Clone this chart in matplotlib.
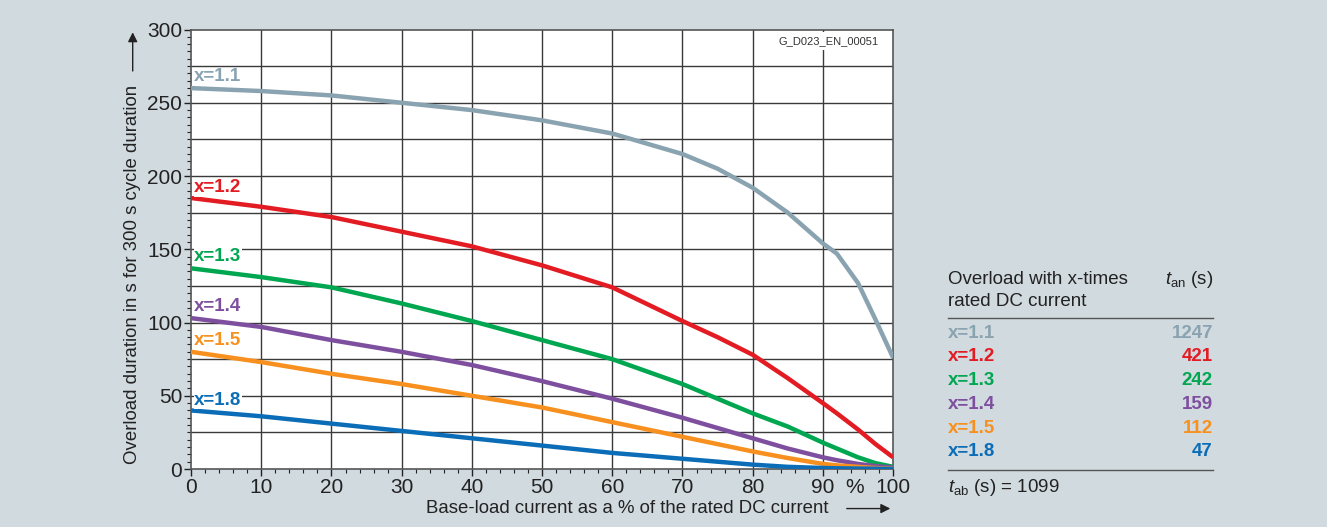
import numpy as np
import matplotlib.pyplot as plt

plt.rcParams['font.family'] = ['Liberation Sans', 'DejaVu Sans']
plt.rcParams['mathtext.fontset'] = 'custom'
plt.rcParams['mathtext.rm'] = 'Liberation Sans'
plt.rcParams['mathtext.it'] = 'Liberation Sans:italic'

# base-load current (% of rated DC current)
base = [0, 10, 20, 30, 40, 50, 60, 70, 75, 80, 85, 90, 92, 95, 97.5, 100]

# overload duration (s) for each overload factor
t_11 = [260, 258, 255, 250, 245, 238, 229, 215, 205, 192, 175, 154, 147, 127, 102, 76]
t_12 = [185, 179, 172, 162, 152, 139, 124, 101, 90, 78, 62, 45, 38, 27, 17, 8]
t_13 = [137, 131, 124, 113, 101, 88, 75, 58, 48, 38, 29, 18, 14, 8, 4, 1.5]
t_14 = [103, 97, 88, 80, 71, 60, 48, 35, 28, 21, 14, 8, 6, 3.5, 2, 1]
t_15 = [80, 73, 65, 58, 50, 42, 32, 22, 17, 12, 7.5, 3.5, 2.5, 1.5, 0.7, 0.3]
t_18 = [40, 36, 31, 26, 21, 16, 11, 7, 5, 3, 1.5, 0.7, 0.5, 0.3, 0.2, 0.1]

labels = ['x=1.1', 'x=1.2', 'x=1.3', 'x=1.4', 'x=1.5', 'x=1.8']
t_an = ['1247', '421', '242', '159', '112', '47']
colors = ['#8aa3b1', '#e31b23', '#00a650', '#7e4f9e', '#f7901e', '#0b6db7']
series = [t_11, t_12, t_13, t_14, t_15, t_18]
label_y = [268, 192, 145, 111, 88, 47]

bg = '#d1dadf'
fig = plt.figure(figsize=(13.27, 5.27), dpi=100, facecolor=bg)
ax = fig.add_axes([0.144, 0.110, 0.529, 0.834])
ax.set_facecolor('white')

for v in range(10, 100, 10):
    ax.axvline(v, color='#3a3a3a', lw=1.0, zorder=1)
for h in range(25, 300, 25):
    ax.axhline(h, color='#3a3a3a', lw=1.0, zorder=1)

for y, c in zip(series, colors):
    ax.plot(base, y, color=c, lw=3.2, zorder=3, solid_capstyle='butt')

for lab, c, ly in zip(labels, colors, label_y):
    ax.text(0.4, ly, lab, color=c, fontsize=13.5, fontweight='bold', va='center', ha='left', zorder=4,
            bbox=dict(facecolor='white', edgecolor='none', pad=0.3))

ax.text(98, 292, 'G_D023_EN_00051', fontsize=8, color='#333333', ha='right', va='center', zorder=4,
        bbox=dict(facecolor='white', edgecolor='none', pad=3))

ax.set_xlim(0, 100)
ax.set_ylim(0, 300)
ax.set_xticks(range(0, 101, 10))
ax.set_xticks(range(0, 101, 2), minor=True)
ax.set_yticks(range(0, 301, 50))
ax.set_yticks(range(0, 301, 5), minor=True)
ax.tick_params(axis='both', labelsize=15, colors='#222222', length=5, width=1, direction='out', pad=1.5)
ax.tick_params(axis='both', which='minor', length=3, width=0.8, colors='#222222')
for s in ax.spines.values():
    s.set_color('#555555')
    s.set_linewidth(1.2)
ax.text(94.5, -12.5, '%', fontsize=15, color='#222222', ha='center', va='center')

fig.text(0.473, 0.035, 'Base-load current as a % of the rated DC current', fontsize=13.4,
         color='#222222', ha='center', va='center')
fig.text(0.100, 0.48, 'Overload duration in s for 300 s cycle duration', fontsize=13.4,
         color='#222222', ha='center', va='center', rotation=90)
fig.add_artist(plt.Annotation('', xy=(0.673, 0.035), xytext=(0.636, 0.035), xycoords='figure fraction',
                              arrowprops=dict(arrowstyle='-|>', color='#222222', lw=1, mutation_scale=14)))
fig.add_artist(plt.Annotation('', xy=(0.100, 0.944), xytext=(0.100, 0.86), xycoords='figure fraction',
                              arrowprops=dict(arrowstyle='-|>', color='#222222', lw=1, mutation_scale=14)))

# table on the right
x0, x1 = 948 / 1327, 1213 / 1327
def fy(p):
    return 1 - p / 527

fig.text(x0, fy(279), 'Overload with x-times', fontsize=13.5, color='#222222', va='center')
fig.text(x0, fy(301), 'rated DC current', fontsize=13.5, color='#222222', va='center')
fig.text(x1, fy(280), r'$t_{\mathrm{an}}$ (s)', fontsize=13.5, color='#222222', va='center', ha='right')
fig.add_artist(plt.Line2D([x0, x1], [fy(318), fy(318)], color='#555555', lw=1))
for i, (lab, c, t) in enumerate(zip(labels, colors, t_an)):
    yy = fy(333 + i * 23.8)
    fig.text(x0, yy, lab, fontsize=13.5, color=c, fontweight='bold', va='center')
    fig.text(x1, yy, t, fontsize=13.5, color=c, fontweight='bold', va='center', ha='right')
fig.add_artist(plt.Line2D([x0, x1], [fy(470), fy(470)], color='#555555', lw=1))
fig.text(x0, fy(488), r'$t_{\mathrm{ab}}$ (s) = 1099', fontsize=13.5, color='#222222', va='center')

fig.savefig('out.png', dpi=100, facecolor=bg)
